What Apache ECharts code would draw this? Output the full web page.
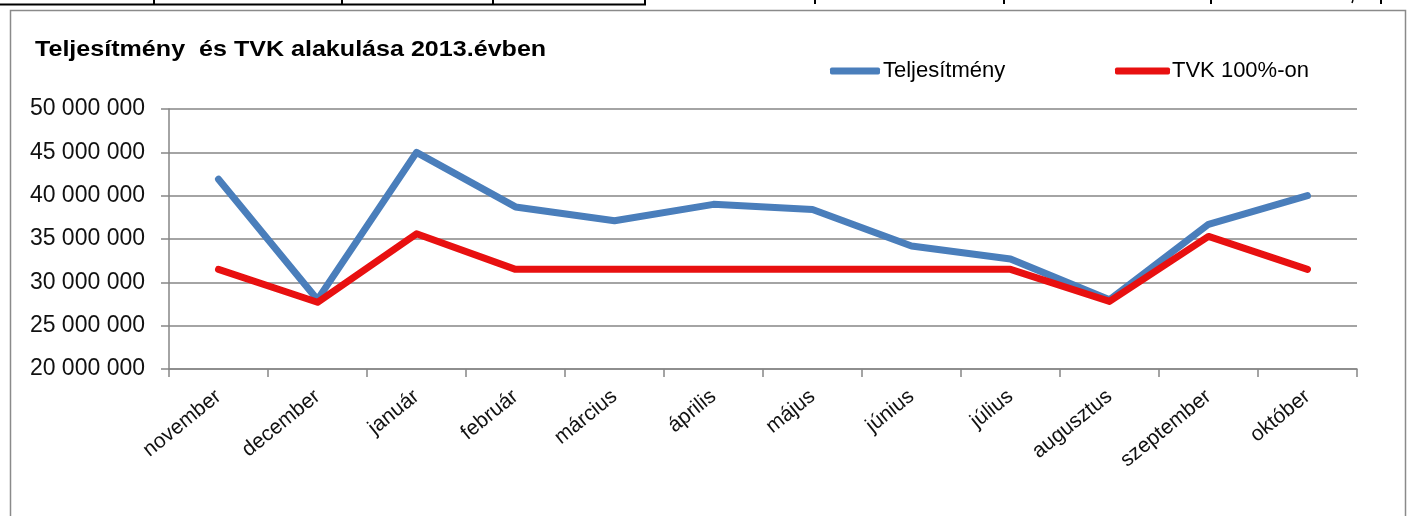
<!DOCTYPE html>
<html>
<head>
<meta charset="utf-8">
<script src="https://cdn.jsdelivr.net/npm/echarts@6/dist/echarts.min.js"></script>
<style>
html,body{margin:0;padding:0;background:#fff;}
#c{width:1408px;height:516px;}
</style>
</head>
<body>
<div id="c"></div>
<script>
const categories = ['november','december','január','február','március','április','május','június','július','augusztus','szeptember','október'];
const teljesitmeny = [41900000, 28000000, 45000000, 38700000, 37100000, 39000000, 38400000, 34200000, 32700000, 28000000, 36700000, 40000000];
const tvk = [31500000, 27700000, 35600000, 31500000, 31500000, 31500000, 31500000, 31500000, 31500000, 27800000, 35300000, 31500000];
const seriesNames = ['Teljesítmény', 'TVK 100%-on'];
const titleText = 'Teljesítmény  és TVK alakulása 2013.évben';
const yMin = 20000000, yMax = 50000000, yStep = 5000000;

const chart = echarts.init(document.getElementById('c'), null, {renderer:'canvas'});
const FONT = 'Liberation Sans, Arial, sans-serif';
function fmt(v){ return String(v).replace(/\B(?=(\d{3})+(?!\d))/g, ' '); }

const gfx = [];
// top table strip
gfx.push({type:'line', shape:{x1:0,y1:4.5,x2:646,y2:4.5}, style:{stroke:'#000',lineWidth:2}});
[154,342,493,645].forEach(x=>gfx.push({type:'line', shape:{x1:x,y1:0,x2:x,y2:5}, style:{stroke:'#000',lineWidth:2}}));
[815,1004,1211,1381].forEach(x=>gfx.push({type:'line', shape:{x1:x,y1:0,x2:x,y2:4}, style:{stroke:'#000',lineWidth:2}}));
gfx.push({type:'line', shape:{x1:1353,y1:0,x2:1352,y2:3}, style:{stroke:'#000',lineWidth:1.5}});
// chart frame
gfx.push({type:'rect', shape:{x:10.5,y:10.5,width:1395,height:520}, style:{fill:'none',stroke:'#8a8a8a',lineWidth:1.5}});
// title (horizontally stretched like the reference)
gfx.push({type:'text', x:35, y:39, scaleX:1.14, style:{text:titleText, font:'bold 22px Liberation Sans, Arial, sans-serif', fill:'#000', textVerticalAlign:'top'}});

chart.setOption({
  animation:false,
  backgroundColor:'#fff',
  graphic: gfx,
  legend:[
    {data:[seriesNames[0]], left:825, top:55, itemWidth:50, itemHeight:7, icon:'roundRect',
     textStyle:{fontFamily:FONT, fontSize:22, color:'#000', padding:[0,0,0,-2]}},
    {data:[seriesNames[1]], left:1110, top:55, itemWidth:55, itemHeight:7, icon:'roundRect',
     textStyle:{fontFamily:FONT, fontSize:22, color:'#000', padding:[0,0,0,-3]}}
  ],
  grid:{left:169, right:51, top:109, bottom:147, containLabel:false},
  xAxis:{
    type:'category', data:categories, boundaryGap:true,
    axisLine:{lineStyle:{color:'#868686', width:1.5}},
    axisTick:{show:true, interval:0, length:8, lineStyle:{color:'#868686', width:1.5}},
    axisLabel:{interval:0, rotate:39, margin:25, fontFamily:FONT, fontSize:21, color:'#111'},
    splitLine:{show:false}
  },
  yAxis:{
    type:'value', min:yMin, max:yMax, interval:yStep,
    axisLine:{show:true, lineStyle:{color:'#868686', width:1.5}},
    axisTick:{show:true, length:8, lineStyle:{color:'#868686', width:1.5}},
    axisLabel:{margin:24, fontFamily:FONT, fontSize:23, color:'#111', formatter:fmt},
    splitLine:{show:true, lineStyle:{color:'#868686', width:1.5}}
  },
  series:[
    {name:seriesNames[0], type:'line', data:teljesitmeny, symbol:'none', smooth:false,
     itemStyle:{color:'#4A7EBB'}, lineStyle:{color:'#4A7EBB', width:7, cap:'round', join:'round'}, z:2},
    {name:seriesNames[1], type:'line', data:tvk, symbol:'none', smooth:false,
     itemStyle:{color:'#E81010'}, lineStyle:{color:'#E81010', width:7, cap:'round', join:'round'}, z:3}
  ]
});
</script>
</body>
</html>
